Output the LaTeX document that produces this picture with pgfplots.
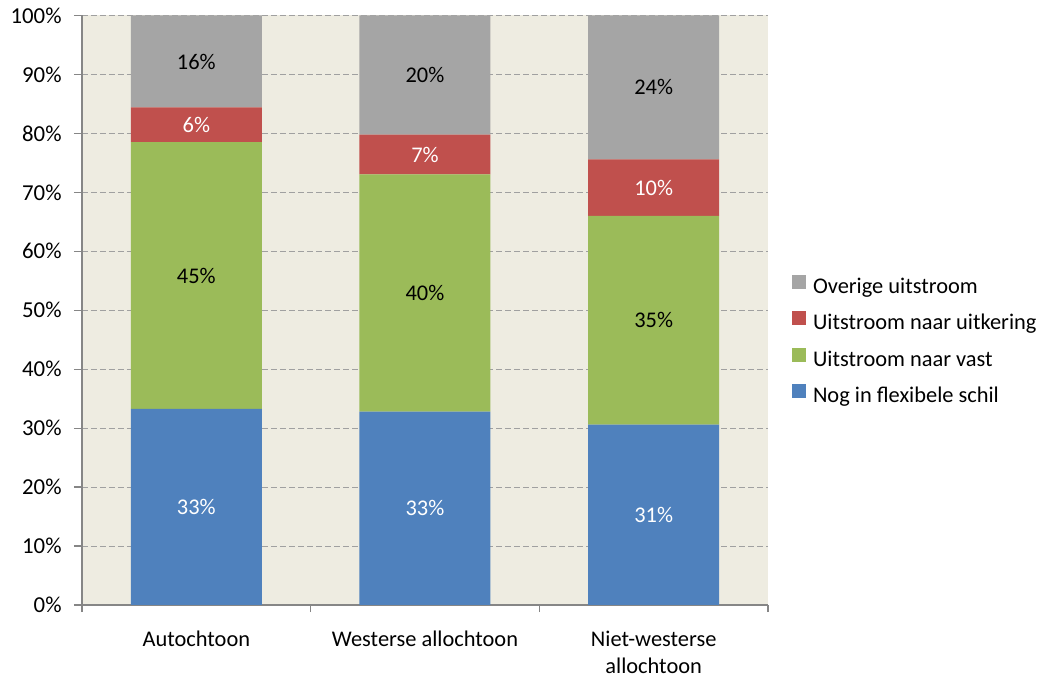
\documentclass[border=0pt]{standalone}
\usepackage{fontspec}
\setmainfont{Carlito}
\usepackage{pgfplots}
\pgfplotsset{compat=1.18}
\definecolor{cblue}{HTML}{4F81BD}
\definecolor{cred}{HTML}{C0504D}
\definecolor{cgreen}{HTML}{9BBB59}
\definecolor{cgray}{HTML}{A5A5A5}
\definecolor{bg}{HTML}{EEECE1}
\definecolor{axgray}{HTML}{868686}
\definecolor{gridgray}{HTML}{A0A0A0}
\begin{document}
\begin{tikzpicture}
\useasboundingbox (-41pt,-35pt) rectangle (481.5pt,302.5pt);
\begin{axis}[
  at={(0pt,0pt)}, anchor=south west,
  scale only axis, width=343pt, height=294.75pt,
  xmin=-0.5, xmax=2.5, ymin=0, ymax=100,
  ybar stacked, bar width=65.5pt,
  axis background/.style={fill=bg},
  axis lines*=left,
  axis line style={draw=axgray, line width=0.9pt, -},
  tick align=outside,
  xtick={0,1,2},
  xticklabels={Autochtoon, Westerse allochtoon, {Niet-westerse\\allochtoon}},
  major x tick style={draw=none},
  minor xtick={-0.5,0.5,1.5,2.5},
  minor x tick style={draw=axgray, line width=0.6pt},
  minor tick length=3.5pt,
  ytick={0,10,...,100},
  yticklabels={0\%,10\%,20\%,30\%,40\%,50\%,60\%,70\%,80\%,90\%,100\%},
  major tick length=4pt,
  y tick style={draw=axgray, line width=0.6pt},
  ymajorgrids,
  grid style={draw=gridgray, line width=0.5pt, dash pattern=on 3pt off 1.5pt},
  tick label style={font=\fontsize{11.2}{13.6}\selectfont, text=black},
  xticklabel style={align=center, inner sep=0pt, anchor=north, yshift=-8.8pt, text depth=0pt},
  yticklabel style={inner sep=0pt, anchor=east, xshift=-6pt, font=\fontsize{11.4}{13.6}\selectfont},
  legend style={at={(1.035,0.447)}, anchor=west, draw=none, fill=none,
    inner sep=0pt, row sep=6.5pt, column sep=3.3pt,
    nodes={inner sep=0pt, text height=8pt, text depth=2.5pt, font=\fontsize{11.2}{13.6}\selectfont}},
  legend cell align=left,
  legend image code/.code={\fill[#1] (0pt,-0.5pt) rectangle (7pt,6.5pt);},
  reverse legend,
  point meta=explicit symbolic,
  nodes near coords={\pgfplotspointmeta\%},
  every node near coord/.append style={anchor=center, font=\fontsize{11.2}{13.6}\selectfont},
]
\addplot[fill=cblue, draw=none, nodes near coords style={text=white}]
  coordinates {(0,33.25) [33] (1,32.8) [33] (2,30.6) [31]};
\addplot[fill=cgreen, draw=none, nodes near coords style={text=black}]
  coordinates {(0,45.25) [45] (1,40.25) [40] (2,35.4) [35]};
\addplot[fill=cred, draw=none, nodes near coords style={text=white}]
  coordinates {(0,5.9) [6] (1,6.75) [7] (2,9.6) [10]};
\addplot[fill=cgray, draw=none, nodes near coords style={text=black}]
  coordinates {(0,15.6) [16] (1,20.2) [20] (2,24.4) [24]};
\legend{Nog in flexibele schil, Uitstroom naar vast, Uitstroom naar uitkering, Overige uitstroom}
\end{axis}
\end{tikzpicture}
\end{document}
